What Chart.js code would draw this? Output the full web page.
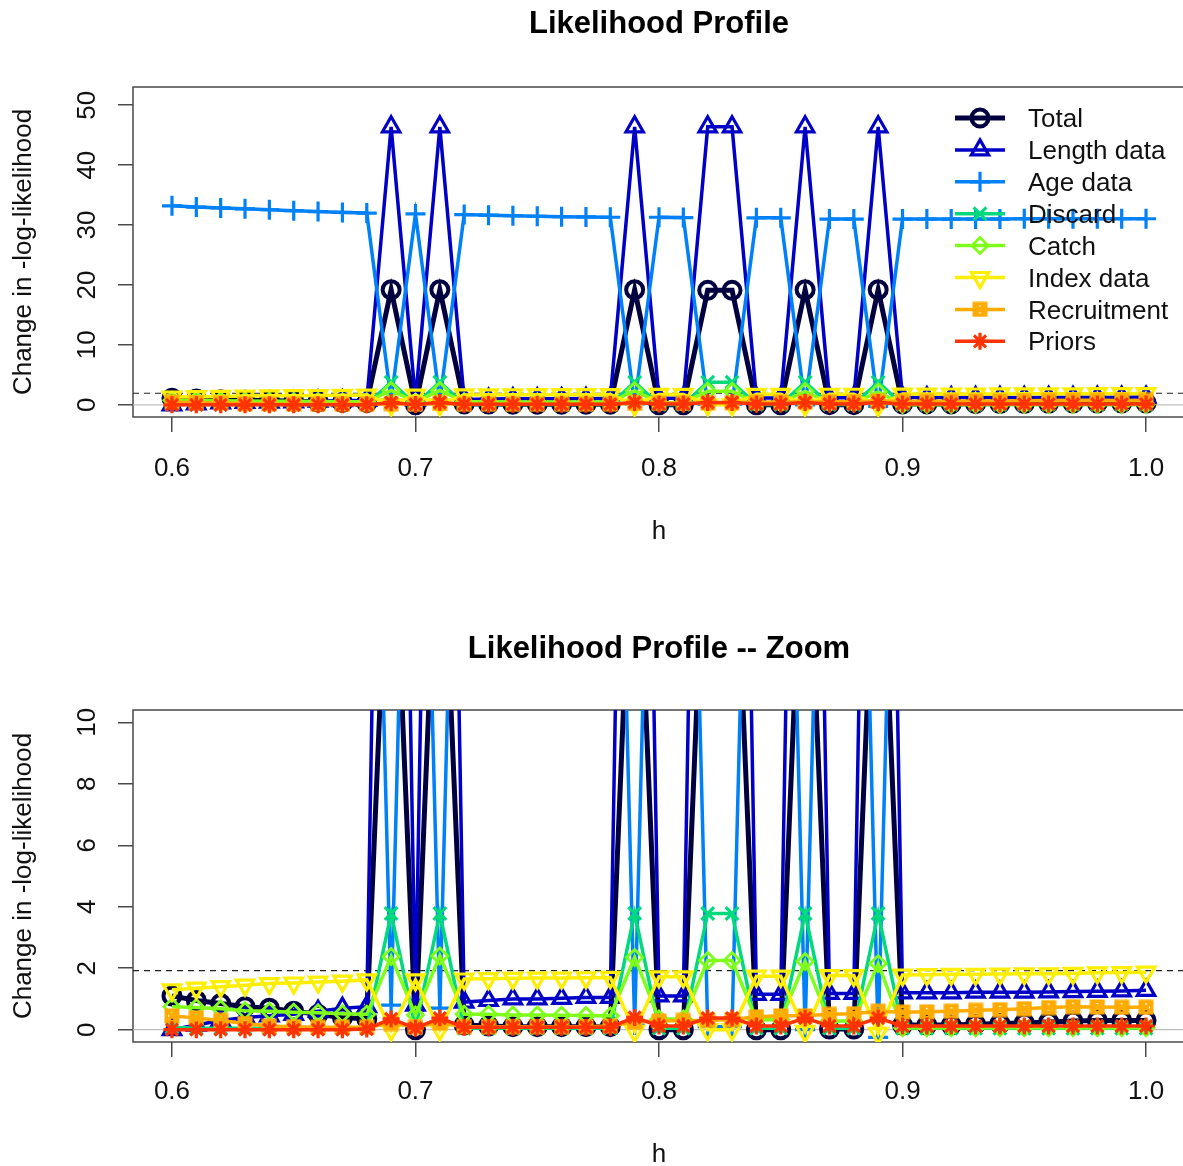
<!DOCTYPE html>
<html>
<head>
<meta charset="utf-8">
<script src="https://cdn.jsdelivr.net/npm/chart.js@4/dist/chart.umd.min.js"></script>
<style>
html,body{margin:0;padding:0;overflow:hidden;background:#fff;width:1183px;height:1166px;}
.panel{position:absolute;left:0;}
canvas{display:block;}
</style>
</head>
<body>
<div class="panel" style="top:0;"><canvas id="c1" width="1200" height="583"></canvas></div>
<div class="panel" style="top:583px;"><canvas id="c2" width="1200" height="600"></canvas></div>
<script>
// ---------------- data ----------------
const hValues = [0.60,0.61,0.62,0.63,0.64,0.65,0.66,0.67,0.68,0.69,0.70,0.71,0.72,0.73,0.74,0.75,0.76,0.77,0.78,0.79,0.80,0.81,0.82,0.83,0.84,0.85,0.86,0.87,0.88,0.89,0.90,0.91,0.92,0.93,0.94,0.95,0.96,0.97,0.98,0.99,1.00];

const total       = [1.10,0.95,0.85,0.75,0.70,0.60,0.50,0.40,0.35,19.2,0.00,19.2,0.15,0.12,0.10,0.10,0.10,0.10,0.10,19.2,0.00,0.00,19.1,19.1,0.00,0.00,19.2,0.02,0.02,19.2,0.15,0.15,0.15,0.18,0.20,0.22,0.25,0.28,0.30,0.30,0.30];
const lengthData  = [0.00,0.15,0.30,0.40,0.45,0.50,0.60,0.70,0.75,46.4,0.80,46.4,0.90,0.95,1.00,1.00,1.02,1.05,1.05,46.4,1.10,1.10,46.4,46.4,1.15,1.15,46.4,1.18,1.18,46.4,1.20,1.20,1.20,1.22,1.22,1.22,1.23,1.24,1.25,1.26,1.28];
const ageData     = [33.2,33.0,32.85,32.7,32.55,32.4,32.25,32.1,32.0,0.80,31.85,0.70,31.75,31.65,31.55,31.45,31.4,31.35,31.3,0.15,31.3,31.25,0.10,0.10,31.2,31.2,0.00,31.0,31.0,-0.25,31.0,31.0,31.0,31.0,31.0,31.05,31.05,31.05,31.05,31.05,31.05];
const discard     = [0.08,0.05,0.05,0.05,0.05,0.05,0.05,0.05,0.05,3.78,0.05,3.78,0.05,0.05,0.05,0.05,0.05,0.05,0.05,3.78,0.05,0.05,3.78,3.78,0.05,0.05,3.78,0.05,0.05,3.78,0.05,0.05,0.05,0.05,0.05,0.05,0.05,0.05,0.05,0.05,0.05];
const catchData   = [0.75,0.72,0.68,0.62,0.60,0.57,0.55,0.52,0.50,2.38,0.48,2.40,0.50,0.50,0.48,0.48,0.47,0.46,0.45,2.35,0.35,0.35,2.25,2.25,0.32,0.32,2.22,0.28,0.28,2.15,0.06,0.06,0.06,0.06,0.06,0.06,0.06,0.06,0.06,0.06,0.06];
const indexData   = [1.30,1.35,1.40,1.45,1.50,1.52,1.55,1.58,1.62,0.00,1.62,0.00,1.65,1.66,1.67,1.68,1.68,1.69,1.70,-0.05,1.72,1.72,0.00,0.00,1.74,1.74,-0.05,1.76,1.76,-0.12,1.78,1.79,1.80,1.80,1.81,1.82,1.82,1.83,1.85,1.86,1.87];
const recruitment = [0.45,0.38,0.30,0.20,0.12,0.10,0.08,0.08,0.08,0.20,0.10,0.22,0.10,0.10,0.10,0.10,0.10,0.10,0.12,0.25,0.28,0.30,0.30,0.33,0.42,0.45,0.45,0.50,0.52,0.60,0.57,0.58,0.60,0.63,0.65,0.68,0.72,0.75,0.74,0.73,0.73];
const priors      = [0.00,0.00,0.00,0.00,0.00,0.00,0.00,0.00,0.02,0.35,0.05,0.38,0.08,0.08,0.08,0.08,0.08,0.08,0.08,0.40,0.12,0.12,0.38,0.38,0.12,0.12,0.38,0.12,0.12,0.38,0.12,0.12,0.12,0.12,0.12,0.12,0.12,0.12,0.12,0.12,0.12];

const seriesNames = ['Total','Length data','Age data','Discard','Catch','Index data','Recruitment','Priors'];
const seriesValues = [total, lengthData, ageData, discard, catchData, indexData, recruitment, priors];

const xTicks = [0.6, 0.7, 0.8, 0.9, 1.0];
const yTicksMain = [0, 10, 20, 30, 40, 50];
const yTicksZoom = [0, 2, 4, 6, 8, 10];
const chiThreshold = 1.92;
const xLimits = [0.584, 1.016];
const yLimitsMain = [-2.04, 53.04];
const yLimitsZoom = [-0.4, 10.4];

// ---------------- styles ----------------
const FONT = "'Liberation Sans', Arial, Helvetica, sans-serif";
const seriesColors = ['#000040','#0000C6','#0081F8','#02D97D','#7FFE1A','#FDEE02','#FFAB00','#FF3300'];

function boxedX(color, size, lw) {
  const c = document.createElement('canvas');
  c.width = size; c.height = size;
  const g = c.getContext('2d');
  g.strokeStyle = color; g.lineWidth = lw;
  const m = lw / 2 + 0.5;
  g.strokeRect(m, m, size - 2 * m, size - 2 * m);
  g.beginPath();
  g.moveTo(m, m); g.lineTo(size - m, size - m);
  g.moveTo(size - m, m); g.lineTo(m, size - m);
  g.stroke();
  return c;
}

const seriesStyles = [
  {pointStyle:'circle',   radius:8.5, pbw:4,   lw:5,   rot:0},
  {pointStyle:'triangle', radius:10,  pbw:3.2, lw:3.5, rot:0},
  {pointStyle:'cross',    radius:10,  pbw:3.2, lw:3.5, rot:0},
  {pointStyle:'crossRot', radius:9,   pbw:3.2, lw:3.5, rot:0},
  {pointStyle:'rectRot',  radius:8,   pbw:2.8, lw:3.5, rot:0},
  {pointStyle:'triangle', radius:10,  pbw:3.2, lw:3.5, rot:180},
  {pointStyle:boxedX('#FFAB00', 16, 3.5), radius:8, pbw:3, lw:3.5, rot:0},
  {pointStyle:'star',     radius:8.5, pbw:3.2, lw:3.5, rot:0}
];

function buildDatasets() {
  const ds = seriesValues.map((vals, i) => {
    const st = seriesStyles[i];
    return {
      label: seriesNames[i],
      data: hValues.map((h, k) => ({x: h, y: vals[k]})),
      borderColor: seriesColors[i],
      backgroundColor: 'rgba(0,0,0,0)',
      borderWidth: st.lw,
      pointStyle: st.pointStyle,
      pointRadius: st.radius,
      pointRotation: st.rot,
      pointBorderWidth: st.pbw,
      pointBorderColor: seriesColors[i],
      pointBackgroundColor: 'rgba(0,0,0,0)',
      tension: 0,
      fill: false,
      order: 20 - i
    };
  });
  ds.push({
    label: '_zero',
    data: [{x: xLimits[0], y: 0}, {x: xLimits[1], y: 0}],
    borderColor: '#BEBEBE', borderWidth: 1.2, pointRadius: 0, order: 100
  });
  ds.push({
    label: '_chi',
    data: [{x: xLimits[0], y: chiThreshold}, {x: xLimits[1], y: chiThreshold}],
    borderColor: '#222', borderWidth: 1.2, borderDash: [6, 5], pointRadius: 0, order: 99
  });
  return ds;
}

const framePlugin = {
  id: 'frame',
  beforeDatasetsDraw(chart) {
    const a = chart.chartArea, ctx = chart.ctx;
    ctx.save();
    ctx.strokeStyle = '#4a4a4a';
    ctx.lineWidth = 1.5;
    ctx.strokeRect(a.left, a.top, a.right - a.left, a.bottom - a.top);
    ctx.restore();
  }
};

const legendPlugin = {
  id: 'rlegend',
  afterDatasetsDraw(chart, args, opts) {
    if (!opts || !opts.show) return;
    const ctx = chart.ctx;
    ctx.save();
    seriesNames.forEach((name, i) => {
      const y = opts.y0 + i * opts.dy;
      const st = seriesStyles[i];
      ctx.strokeStyle = seriesColors[i];
      ctx.fillStyle = 'rgba(0,0,0,0)';
      ctx.lineWidth = st.lw;
      ctx.setLineDash([]);
      ctx.beginPath();
      ctx.moveTo(opts.x0, y); ctx.lineTo(opts.x1, y);
      ctx.stroke();
      ctx.lineWidth = st.pbw;
      Chart.helpers.drawPoint(ctx, {
        pointStyle: st.pointStyle, rotation: st.rot, radius: st.radius, borderWidth: st.pbw
      }, (opts.x0 + opts.x1) / 2, y);
      ctx.fillStyle = '#111';
      ctx.font = '26px ' + FONT;
      ctx.textAlign = 'left';
      ctx.textBaseline = 'middle';
      ctx.fillText(name, opts.tx, y + 2);
    });
    ctx.restore();
  }
};

function makePanel(canvasId, cfg) {
  const H = document.getElementById(canvasId).height;
  const titleLH = 31 * 1.2;
  const labLH = 26 * 1.2;
  const titlePadTop = cfg.titleCenter - titleLH / 2;
  const titlePadBottom = cfg.chartTop - titlePadTop - titleLH;
  return new Chart(document.getElementById(canvasId), {
    type: 'line',
    data: {datasets: buildDatasets()},
    options: {
      responsive: false,
      animation: false,
      events: [],
      layout: {padding: {left: 0, right: 15, top: 0, bottom: 0}},
      scales: {
        x: {
          type: 'linear',
          min: xLimits[0], max: xLimits[1],
          afterBuildTicks: s => { s.ticks = xTicks.map(v => ({value: v})); },
          afterFit: s => { s.height = H - cfg.chartBottom; },
          grid: {drawOnChartArea: false, drawTicks: true, tickLength: 15, color: '#4a4a4a', lineWidth: 1.5},
          border: {display: false},
          ticks: {
            autoSkip: false, maxRotation: 0, minRotation: 0,
            padding: cfg.labelCenter - cfg.chartBottom - 15 - labLH / 2,
            font: {family: FONT, size: 26}, color: '#111',
            callback: v => Number(v).toFixed(1)
          },
          title: {
            display: true, text: 'h', color: '#111',
            font: {family: FONT, size: 26},
            padding: {top: 0, bottom: H - cfg.xTitleCenter - labLH / 2}
          }
        },
        y: {
          type: 'linear',
          min: cfg.yLimits[0], max: cfg.yLimits[1],
          afterBuildTicks: s => { s.ticks = cfg.yTicks.map(v => ({value: v})); },
          afterFit: s => { s.width = 133; },
          grid: {drawOnChartArea: false, drawTicks: true, tickLength: 15, color: '#4a4a4a', lineWidth: 1.5},
          border: {display: false},
          ticks: {
            autoSkip: false, minRotation: 90, maxRotation: 90, crossAlign: 'center',
            padding: 15.5,
            font: {family: FONT, size: 26}, color: '#111',
            callback: v => String(v)
          },
          title: {
            display: true, text: 'Change in -log-likelihood', color: '#111',
            font: {family: FONT, size: 26},
            padding: {top: 8, bottom: 0}
          }
        }
      },
      plugins: {
        legend: {display: false},
        tooltip: {enabled: false},
        title: {
          display: true, text: cfg.title, fullSize: false,
          color: '#000', font: {family: FONT, size: 31, weight: 'bold', lineHeight: 1.2},
          padding: {top: titlePadTop, bottom: titlePadBottom}
        },
        rlegend: cfg.legend || {show: false}
      }
    },
    plugins: [framePlugin, legendPlugin]
  });
}

makePanel('c1', {
  title: 'Likelihood Profile',
  titleCenter: 24, chartTop: 87, chartBottom: 417, labelCenter: 469, xTitleCenter: 532,
  yLimits: yLimitsMain, yTicks: yTicksMain,
  legend: {show: true, x0: 955, x1: 1005, tx: 1028, y0: 118, dy: 31.9}
});
makePanel('c2', {
  title: 'Likelihood Profile -- Zoom',
  titleCenter: 66, chartTop: 127, chartBottom: 459, labelCenter: 509, xTitleCenter: 572,
  yLimits: yLimitsZoom, yTicks: yTicksZoom
});
</script>
</body>
</html>
